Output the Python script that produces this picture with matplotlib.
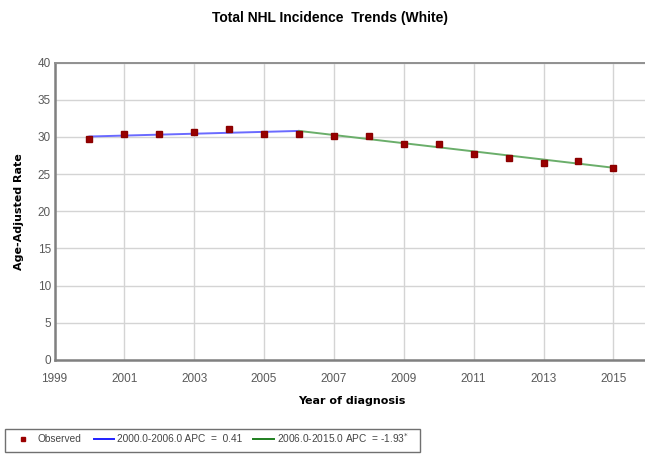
import matplotlib
matplotlib.use("Agg")
import matplotlib.pyplot as plt
from matplotlib.lines import Line2D
from matplotlib.patches import Rectangle

# Observed age-adjusted incidence rates
years = [2000, 2001, 2002, 2003, 2004, 2005, 2006, 2007,
         2008, 2009, 2010, 2011, 2012, 2013, 2014, 2015]
observed = [29.75, 30.38, 30.33, 30.69, 31.0, 30.33, 30.42, 30.1,
            30.1, 29.07, 28.99, 27.65, 27.2, 26.52, 26.7, 25.85]

# Joinpoint segment end values
seg1_years = [2000, 2006]
seg1_rates = [30.05, 30.8]
seg2_years = [2006, 2015]
seg2_rates = [30.8, 25.85]

seg1_label = "2000.0-2006.0 APC  =  0.41"
seg2_label = "2006.0-2015.0 APC  = -1.93$^{*}$"

x_ticks = list(range(1999, 2016, 2))
y_ticks = list(range(0, 41, 5))

W, H = 645, 455
sans = ["Liberation Sans", "DejaVu Sans"]
tick_grey = "#5a5a5a"

fig = plt.figure(figsize=(W / 100, H / 100), dpi=100)
ax = fig.add_axes([54.5 / W, 1 - 360 / H, (648.3 - 54.5) / W, (360 - 62.5) / H])

ax.plot(seg1_years, seg1_rates, color="#6a6aff", lw=1.4, zorder=3)
ax.plot(seg2_years, seg2_rates, color="#6aae6a", lw=1.4, zorder=3)
ax.plot(years, observed, ls="none", marker="s", ms=5,
        mfc="#9a0000", mec="#8a0000", zorder=4)

ax.set_xlim(1999, 2016)
ax.set_ylim(0, 40)
ax.set_xticks(x_ticks)
ax.set_yticks(y_ticks)
ax.grid(True, color="#d4d4d4", lw=1.0)
ax.set_axisbelow(True)
ax.tick_params(length=0, labelsize=8.5, labelcolor=tick_grey)
ax.tick_params(axis="x", pad=9)
ax.tick_params(axis="y", pad=2.5)
for lab in ax.get_xticklabels() + ax.get_yticklabels():
    lab.set_family(sans)

for side in ("left", "bottom"):
    ax.spines[side].set_color("#808080")
    ax.spines[side].set_linewidth(1.8)
ax.spines["top"].set_color("#909090")
ax.spines["top"].set_linewidth(1.4)
ax.spines["right"].set_visible(False)

ax.set_xlabel("Year of diagnosis", fontsize=8, fontweight="bold",
              family="DejaVu Sans", labelpad=8)
ax.set_ylabel("Age-Adjusted Rate", fontsize=8, fontweight="bold",
              family="DejaVu Sans", labelpad=10)

fig.text(0.512, 1 - 18 / H, "Total NHL Incidence  Trends (White)", ha="center",
         va="center", fontsize=10, fontweight="bold", family=sans)

# Legend box along the bottom edge
def fx(x):
    return x / W

def fy(y):
    return 1 - y / H

fig.add_artist(Rectangle((fx(4.5), fy(452)), fx(420) - fx(4.5), fy(428.5) - fy(452),
                         transform=fig.transFigure, facecolor="white",
                         edgecolor="#707070", lw=1.0))
ly = fy(438.5)
fig.add_artist(Line2D([fx(23)], [ly], ls="none", marker="s", ms=3,
                      mfc="#9a0000", mec="#9a0000", transform=fig.transFigure))
fig.add_artist(Line2D([fx(94), fx(114)], [ly, ly], color="#2020ff", lw=1.4,
                      transform=fig.transFigure))
fig.add_artist(Line2D([fx(253), fx(274)], [ly, ly], color="#1f7f1f", lw=1.4,
                      transform=fig.transFigure))
leg_style = dict(fontsize=7.3, family=sans, color="#454545", va="center", ha="left")
fig.text(fx(38), ly, "Observed", **leg_style)
fig.text(fx(117), ly, seg1_label, **leg_style)
fig.text(fx(277), ly, seg2_label, **leg_style)

fig.savefig("out.png", dpi=100)
